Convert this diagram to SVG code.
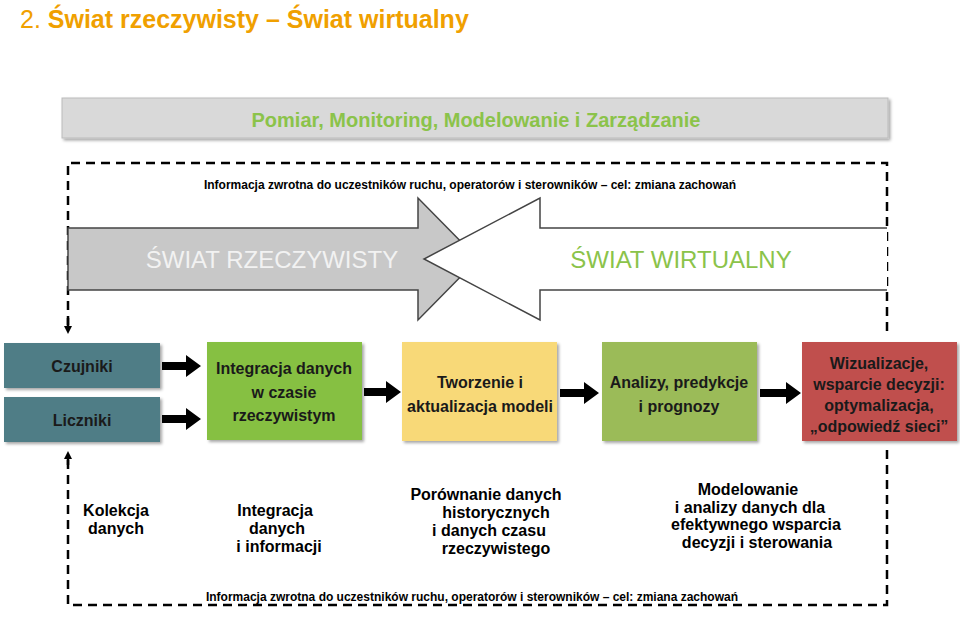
<svg xmlns="http://www.w3.org/2000/svg" width="960" height="622" viewBox="0 0 960 622">
<defs>
<marker id="ah" markerWidth="8" markerHeight="8" refX="4" refY="4" orient="auto" markerUnits="userSpaceOnUse"><path d="M0,0 L8,4 L0,8 z" fill="#000"/></marker>
<filter id="sh" x="-5%" y="-5%" width="115%" height="120%"><feDropShadow dx="2" dy="2" stdDeviation="1.5" flood-color="#000" flood-opacity="0.35"/></filter>
</defs>
<style>
text{font-family:"Liberation Sans",Arial,sans-serif}
.bx{font-size:16px;font-weight:bold;fill:#1a1a1a;text-anchor:middle}
.bt{font-size:16px;font-weight:bold;fill:#000;text-anchor:middle}
.fb{font-size:12px;font-weight:bold;fill:#000;text-anchor:middle}
.dash{fill:none;stroke:#000;stroke-width:2.5;stroke-dasharray:9,6}
.blk{fill:#000}
</style>
<rect width="960" height="622" fill="#fff"/>
<text x="20" y="28" font-size="25" fill="#f0a000"><tspan>2. </tspan><tspan font-weight="bold">Świat rzeczywisty – Świat wirtualny</tspan></text>
<g id="banner">
<rect x="62" y="98" width="826" height="40" fill="#d9d9d9" stroke="#bbb" filter="url(#sh)"/>
<text x="476" y="127" font-size="20" font-weight="bold" fill="#8bc34a" text-anchor="middle">Pomiar, Monitoring, Modelowanie i Zarządzanie</text>
</g>
<g id="connectors">
<path class="dash" d="M68,325 V163 H887 V335"/>
<path d="M68,318 V330" stroke="#000" stroke-width="2.5" marker-end="url(#ah)"/>
<path class="dash" d="M68,460 V605 H887 V450"/>
<path d="M68,465 V455" stroke="#000" stroke-width="2.5" marker-end="url(#ah)"/>
<path class="blk" d="M162,362 H186 V355 L201,366 L186,377 V370 H162 z"/>
<path class="blk" d="M162,415 H186 V408 L201,419 L186,430 V423 H162 z"/>
<path class="blk" d="M364,388 H386 V381 L401,392 L386,403 V396 H364 z"/>
<path class="blk" d="M560,389 H584 V382 L599,393 L584,404 V397 H560 z"/>
<path class="blk" d="M760,389 H786 V382 L801,393 L786,404 V397 H760 z"/>
</g>
<text class="fb" x="470" y="189">Informacja zwrotna do uczestników ruchu, operatorów i sterowników – cel: zmiana zachowań</text>
<g id="arrow-real">
<path d="M68,228 H418 V198 L478,259 L418,320 V290 H68 z" fill="#c8c8c8" stroke="#444" stroke-width="1.5"/>
<text x="272" y="268" font-size="24" fill="#f2f2f2" text-anchor="middle">ŚWIAT RZECZYWISTY</text>
</g>
<g id="arrow-virtual">
<path d="M887,228 H540 V198 L424,259 L540,320 V290 H887" fill="#fff" stroke="#444" stroke-width="1.5"/>
<text x="681" y="268" font-size="24" fill="#8bc34a" text-anchor="middle">ŚWIAT WIRTUALNY</text>
</g>
<g id="czujniki"><rect x="4" y="343" width="156" height="45" fill="#4f7d86" filter="url(#sh)"/><text class="bx" x="82" y="372">Czujniki</text></g>
<g id="liczniki"><rect x="4" y="397" width="156" height="45" fill="#4f7d86" filter="url(#sh)"/><text class="bx" x="82" y="426">Liczniki</text></g>
<g id="integracja"><rect x="207" y="342" width="155" height="98" fill="#86c043" filter="url(#sh)"/><text class="bx" x="284" y="374">Integracja danych</text><text class="bx" x="284" y="398">w czasie</text><text class="bx" x="284" y="421">rzeczywistym</text></g>
<g id="tworzenie"><rect x="402" y="342" width="155" height="99" fill="#f8d978" filter="url(#sh)"/><text class="bx" x="480" y="388">Tworzenie i</text><text class="bx" x="480" y="412">aktualizacja modeli</text></g>
<g id="analizy"><rect x="602" y="342" width="155" height="99" fill="#9bbb59" filter="url(#sh)"/><text class="bx" x="679" y="388">Analizy, predykcje</text><text class="bx" x="679" y="412">i prognozy</text></g>
<g id="wizualizacje"><rect x="802" y="342" width="155" height="99" fill="#c0504d" filter="url(#sh)"/><text class="bx" x="879" y="369">Wizualizacje,</text><text class="bx" x="879" y="390">wsparcie decyzji:</text><text class="bx" x="879" y="411">optymalizacja,</text><text class="bx" x="879" y="432">„odpowiedź sieci”</text></g>
<g id="bottom-texts">
<text class="bt" x="116" y="516">Kolekcja</text><text class="bt" x="116" y="534">danych</text>
<text class="bt" x="275" y="516">Integracja</text><text class="bt" x="277" y="534">danych</text><text class="bt" x="279" y="552">i informacji</text>
<text class="bt" x="486" y="500">Porównanie danych</text><text class="bt" x="496" y="518">historycznych</text><text class="bt" x="489" y="536">i danych czasu</text><text class="bt" x="496" y="554">rzeczywistego</text>
<text class="bt" x="748" y="495">Modelowanie</text><text class="bt" x="750" y="513">i analizy danych  dla</text><text class="bt" x="756" y="530">efektywnego wsparcia</text><text class="bt" x="757" y="548">decyzji i sterowania</text>
</g>
<text class="fb" x="472" y="601">Informacja zwrotna do uczestników ruchu, operatorów i sterowników – cel: zmiana zachowań</text>
</svg>
